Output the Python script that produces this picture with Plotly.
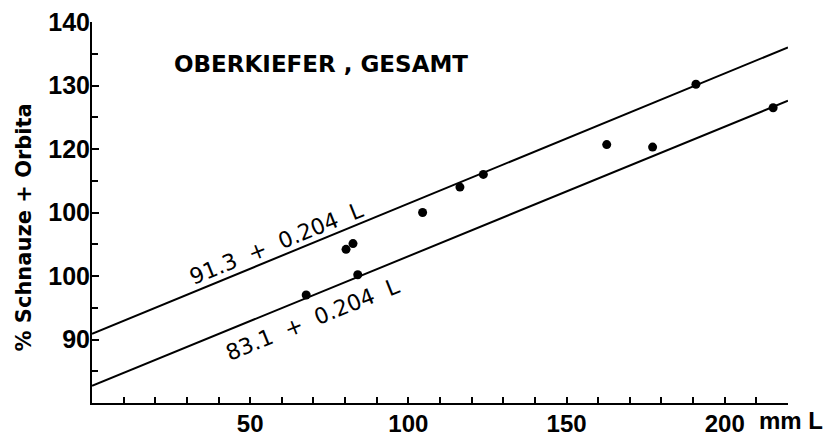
import plotly.graph_objects as go

# Data
length_mm = [67.7, 80.3, 82.5, 84.0, 104.5, 116.3, 123.7, 162.7, 177.2, 190.9, 215.3]
percent = [97.0, 104.2, 105.1, 100.2, 110.0, 114.0, 116.0, 120.7, 120.3, 130.2, 126.5]

line_x = [0, 220]
upper_line_y = [90.9, 136.0]
lower_line_y = [82.7, 127.6]

x_tickvals = list(range(10, 230, 10))
x_ticktext = ["50" if v == 50 else "100" if v == 100 else "150" if v == 150 else "200" if v == 200 else "" for v in x_tickvals]
y_tickvals = [90, 100, 110, 120, 130, 140]
y_ticktext = ["90", "100", "100", "120", "130", "140"]
y_minor_vals = [85, 95, 105, 115, 125, 135]

TICKFONT = "Liberation Sans, Arial, sans-serif"
TEXTFONT = "DejaVu Sans, sans-serif"

fig = go.Figure()
fig.add_trace(go.Scatter(x=line_x, y=upper_line_y, mode="lines",
                         line=dict(color="black", width=2), hoverinfo="skip"))
fig.add_trace(go.Scatter(x=line_x, y=lower_line_y, mode="lines",
                         line=dict(color="black", width=2), hoverinfo="skip"))
fig.add_trace(go.Scatter(x=length_mm, y=percent, mode="markers",
                         marker=dict(color="black", size=9)))

fig.update_layout(
    width=833, height=441,
    margin=dict(l=92, r=45, t=22, b=38),
    paper_bgcolor="white", plot_bgcolor="white",
    showlegend=False,
    font=dict(family=TEXTFONT, color="black"),
)
fig.update_xaxes(
    range=[0, 220], showgrid=False, zeroline=False, automargin=False,
    showline=True, linecolor="black", linewidth=2,
    tickmode="array", tickvals=x_tickvals, ticktext=x_ticktext,
    ticks="inside", ticklen=6, tickwidth=2, tickcolor="black",
    tickfont=dict(family=TICKFONT, size=24, color="black", weight="bold"),
    ticklabelstandoff=-2,
)
fig.update_yaxes(
    range=[80, 140], showgrid=False, zeroline=False, automargin=False,
    showline=True, linecolor="black", linewidth=2,
    tickmode="array", tickvals=y_tickvals, ticktext=y_ticktext,
    ticks="inside", ticklen=7, tickwidth=2, tickcolor="black",
    tickfont=dict(family=TICKFONT, size=25, color="black", weight="bold"),
    ticklabelstandoff=-5,
    minor=dict(tickmode="array", tickvals=y_minor_vals, ticks="inside", ticklen=6,
               tickwidth=2, tickcolor="black"),
)

annotations = [
    dict(text="OBERKIEFER , GESAMT", xref="paper", yref="paper",
         x=(321 - 92) / 696, y=(403.5 - 64.5) / 381, xanchor="center", yanchor="middle",
         showarrow=False, font=dict(family=TEXTFONT, size=23, color="black", weight="bold")),
    dict(text="% Schnauze + Orbita", xref="paper", yref="paper",
         x=(24 - 92) / 696, y=(403.5 - 228) / 381, xanchor="center", yanchor="middle",
         textangle=-90, showarrow=False,
         font=dict(family=TEXTFONT, size=21, color="black", weight="bold")),
    dict(text="mm L", xref="paper", yref="paper",
         x=(757 - 92) / 696, y=-(421 - 403.5) / 381, xanchor="left", yanchor="middle",
         showarrow=False, font=dict(family=TICKFONT, size=24, color="black", weight="bold")),
    dict(text="91.3  +  0.204  L", x=58.2, y=105.1, xref="x", yref="y",
         textangle=-22, showarrow=False,
         font=dict(family=TEXTFONT, size=22, color="black")),
    dict(text="83.1  +  0.204  L", x=69.6, y=93.2, xref="x", yref="y",
         textangle=-22, showarrow=False,
         font=dict(family=TEXTFONT, size=22, color="black")),
]
fig.update_layout(annotations=annotations)

fig.write_html("out.html")
